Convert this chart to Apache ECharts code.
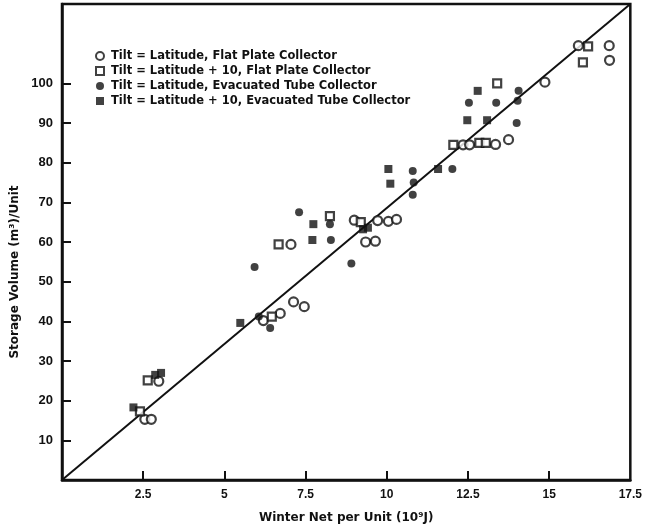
<!DOCTYPE html>
<html>
<head>
<meta charset="utf-8">
<script src="https://cdn.jsdelivr.net/npm/echarts@6/dist/echarts.min.js"></script>
<style>
html,body{margin:0;padding:0;background:#fff;}
#chart{width:645px;height:529px;}
</style>
</head>
<body>
<div id="chart"></div>
<script>
// ---- Data ----
const seriesNames = [
  "Tilt = Latitude, Flat Plate Collector",
  "Tilt = Latitude + 10, Flat Plate Collector",
  "Tilt = Latitude, Evacuated Tube Collector",
  "Tilt = Latitude + 10, Evacuated Tube Collector"
];
// Open circles: Tilt = Latitude, Flat Plate
const latFlat = [
  [2.55,15.3],[2.75,15.3],[2.98,24.9],[6.2,40.2],[6.72,42.0],[7.05,59.4],
  [7.13,44.9],[7.46,43.7],[9.0,65.5],[9.35,60.0],[9.65,60.2],[9.72,65.4],
  [10.05,65.2],[10.3,65.7],[12.35,84.5],[12.55,84.5],[13.35,84.6],[13.75,85.8],
  [14.87,100.3],[15.9,109.5],[16.85,109.5],[16.86,105.8]
];
// Open squares: Tilt = Latitude + 10, Flat Plate
const lat10Flat = [
  [2.4,17.3],[2.64,25.1],[6.46,41.2],[6.67,59.4],[8.25,66.5],[9.2,65.0],
  [12.05,84.5],[12.85,85.0],[13.05,85.0],[13.4,100.0],[16.04,105.3],[16.2,109.3]
];
// Filled circles: Tilt = Latitude, Evacuated Tube
const latEvac = [
  [5.93,53.7],[6.06,41.2],[6.41,38.3],[7.3,67.5],[8.25,64.5],[8.28,60.5],
  [8.91,54.6],[10.8,77.9],[10.83,75.0],[10.8,71.9],[12.02,78.4],[12.53,95.1],
  [13.37,95.1],[14.03,95.6],[14.06,98.1],[14.0,90.0]
];
// Filled squares: Tilt = Latitude + 10, Evacuated Tube
const lat10Evac = [
  [2.2,18.3],[2.87,26.5],[3.05,27.0],[5.49,39.6],[7.71,60.5],[7.74,64.5],
  [9.27,63.2],[9.42,63.6],[10.05,78.4],[10.11,74.7],[11.58,78.4],[12.48,90.7],
  [12.8,98.1],[13.09,90.7]
];
// Reference diagonal line
const lineX = [0, 17.5];
const lineY = [0, 120];
// Tick values
const xTicks = [2.5, 5, 7.5, 10, 12.5, 15];
const xLabels = [2.5, 5, 7.5, 10, 12.5, 15, 17.5];
const yTicks = [10, 20, 30, 40, 50, 60, 70, 80, 90, 100];

const FONT = "Liberation Sans";
const WIDE = "DejaVu Sans";
const chart = echarts.init(document.getElementById('chart'), null, {renderer: 'canvas'});

const openStyle = {color: '#fff', borderColor: '#111', borderWidth: 2.2};
const fillStyle = {color: '#111', borderColor: '#111', borderWidth: 0};

chart.setOption({
  animation: false,
  backgroundColor: '#fff',
  grid: {left: 62, right: 13, top: 4, bottom: 47, show: true, borderColor: '#111', borderWidth: 2.5, backgroundColor: 'transparent'},
  legend: {
    data: seriesNames,
    orient: 'vertical',
    left: 90,
    top: 45,
    itemWidth: 8,
    itemHeight: 8,
    itemGap: 3,
    textStyle: {fontFamily: WIDE, fontSize: 11.5, fontWeight: 'bold', color: '#111', padding: [0,0,0,2]}
  },
  xAxis: {
    type: 'value', min: 0, max: 17.5, interval: 2.5,
    splitLine: {show: false},
    axisLine: {show: true, lineStyle: {color: '#111', width: 2.5}},
    axisTick: {show: true, inside: true, length: 9, lineStyle: {color: '#111', width: 2}, customValues: xTicks},
    axisLabel: {customValues: xLabels, color: '#111', fontFamily: FONT, fontSize: 12, fontWeight: 'bold', margin: 9,
      formatter: v => String(v)},
    name: 'Winter Net per Unit (10⁹J)',
    nameLocation: 'middle', nameGap: 32,
    nameTextStyle: {fontFamily: WIDE, fontSize: 12, fontWeight: 'bold', color: '#111'}
  },
  yAxis: {
    type: 'value', min: 0, max: 120, interval: 10,
    splitLine: {show: false},
    axisLine: {show: true, lineStyle: {color: '#111', width: 2.5}},
    axisTick: {show: true, inside: true, length: 9, lineStyle: {color: '#111', width: 2}, customValues: yTicks},
    axisLabel: {customValues: yTicks, color: '#111', fontFamily: FONT, fontSize: 13, fontWeight: 'bold', margin: 9},
    name: 'Storage Volume (m³)/Unit',
    nameLocation: 'middle', nameGap: 36,
    nameTextStyle: {fontFamily: WIDE, fontSize: 12, fontWeight: 'bold', color: '#111', padding: [0, 60, 0, 0]}
  },
  series: [
    {type: 'line', name: 'fit', data: lineX.map((x, i) => [x, lineY[i]]), symbol: 'none',
      lineStyle: {color: '#111', width: 2}, silent: true, z: 1},
    {type: 'scatter', name: seriesNames[0], data: latFlat, symbol: 'circle', symbolSize: 9, itemStyle: openStyle, z: 3},
    {type: 'scatter', name: seriesNames[1], data: lat10Flat, symbol: 'rect', symbolSize: 8, itemStyle: openStyle, z: 3},
    {type: 'scatter', name: seriesNames[2], data: latEvac, symbol: 'circle', symbolSize: 8, itemStyle: fillStyle, z: 4},
    {type: 'scatter', name: seriesNames[3], data: lat10Evac, symbol: 'rect', symbolSize: 8, itemStyle: fillStyle, z: 4}
  ]
});
</script>
</body>
</html>
